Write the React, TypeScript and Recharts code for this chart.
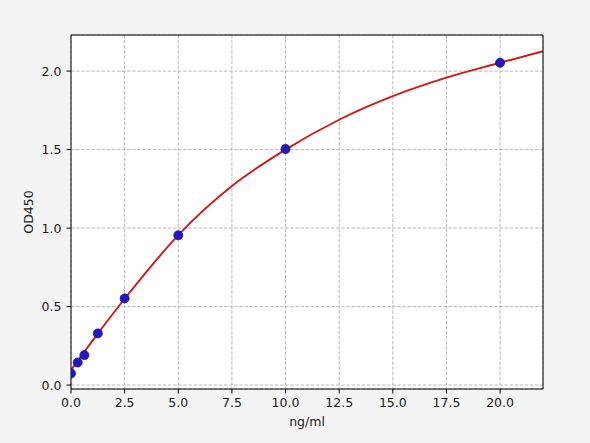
import React from "react"
import { ComposedChart, Line, Scatter, XAxis, YAxis, CartesianGrid, Label } from "recharts"

// standards (ng/ml) and measured OD450
const stdConc = [0, 0.3125, 0.625, 1.25, 2.5, 5, 10, 20]
const stdOd = [0.074, 0.144, 0.191, 0.329, 0.552, 0.954, 1.504, 2.053]

// fitted curve
const fitConc = [0, 0.625, 1.25, 2.5, 3.75, 5, 7.5, 10, 12.5, 15, 17.5, 20, 22]
const fitOd = [0.095, 0.213, 0.328, 0.55, 0.76, 0.955, 1.268, 1.5, 1.69, 1.84, 1.958, 2.053, 2.127]

const xTicks = [0, 2.5, 5, 7.5, 10, 12.5, 15, 17.5, 20]
const yTicks = [0, 0.5, 1, 1.5, 2]
const xDomain = [0, 22]
const yDomain = [-0.025, 2.23]

const points = stdConc.map((x, i) => ({ x, y: stdOd[i] }))
const curve = fitConc.map((x, i) => ({ x, y: fitOd[i] }))

const font = { fontFamily: "DejaVu Sans", fontSize: 12.5, fill: "#1a1a1a" }
const spine = { stroke: "#000", strokeWidth: 1 }

export default function App() {
  return (
    <div style={{ position: "absolute", left: 0, top: 0, width: 590, height: 443, background: "#f3f3f3" }}>
      <ComposedChart width={590} height={443} margin={{ top: 34, right: 46, bottom: 0, left: 0 }}>
        <CartesianGrid fill="#ffffff" stroke="#b0b0b0" strokeDasharray="3.5 1.6" strokeWidth={0.9} />
        <XAxis
          type="number"
          dataKey="x"
          domain={xDomain}
          ticks={xTicks}
          allowDataOverflow
          height={54}
          tickSize={4.5}
          tickMargin={5}
          tick={font}
          tickFormatter={(v: number) => v.toFixed(1)}
          axisLine={spine}
          tickLine={{ stroke: "#000" }}
        >
          <Label
            content={() => (
              <text x={307} y={426} textAnchor="middle" {...font}>
                ng/ml
              </text>
            )}
          />
        </XAxis>
        <XAxis
          xAxisId="top"
          orientation="top"
          type="number"
          domain={xDomain}
          ticks={xTicks}
          allowDataOverflow
          height={1}
          tick={false}
          tickLine={false}
          axisLine={spine}
        />
        <YAxis
          type="number"
          dataKey="y"
          domain={yDomain}
          ticks={yTicks}
          allowDataOverflow
          width={71}
          tickSize={4.5}
          tickMargin={5}
          tick={font}
          tickFormatter={(v: number) => v.toFixed(1)}
          axisLine={spine}
          tickLine={{ stroke: "#000" }}
        >
          <Label
            content={() => (
              <text x={33} y={212} textAnchor="middle" transform="rotate(-90 33 212)" {...font}>
                OD450
              </text>
            )}
          />
        </YAxis>
        <YAxis
          yAxisId="right"
          orientation="right"
          type="number"
          domain={yDomain}
          ticks={yTicks}
          allowDataOverflow
          width={1}
          tick={false}
          tickLine={false}
          axisLine={spine}
        />
        <Scatter
          data={points}
          dataKey="y"
          fill="#2318c4"
          stroke="#14107a"
          strokeWidth={0.8}
          shape="circle"
          isAnimationActive={false}
        />
        <Line
          data={curve}
          dataKey="y"
          type="monotone"
          stroke="#d01818"
          strokeWidth={1.9}
          dot={false}
          activeDot={false}
          isAnimationActive={false}
        />
      </ComposedChart>
    </div>
  )
}
